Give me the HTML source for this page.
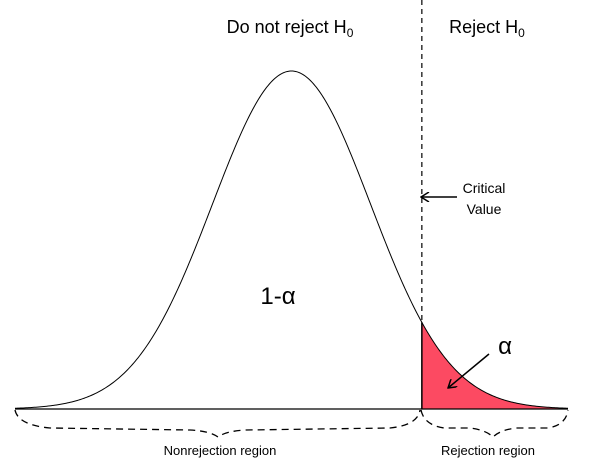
<!DOCTYPE html>
<html><head><meta charset="utf-8"><style>
html,body{margin:0;padding:0;background:#fff;}
svg{display:block;font-family:"Liberation Sans",Arial,sans-serif;}
</style></head><body>
<svg id="chart" width="613" height="476" viewBox="0 0 613 476">
<defs><marker id="ah" markerWidth="10" markerHeight="10" refX="9" refY="5" orient="auto" markerUnits="userSpaceOnUse"><path d="M1,0 L9,5 L1,10" fill="none" stroke="#000" stroke-width="1.5"/></marker></defs>
<g id="plot"></g>
<text x="290" y="33" font-size="18" text-anchor="middle">Do not reject H<tspan font-size="12" dy="4">0</tspan></text>
<text x="487" y="33" font-size="18" text-anchor="middle">Reject H<tspan font-size="12" dy="4">0</tspan></text>
<text x="484" y="193" font-size="14" text-anchor="middle">Critical</text>
<text x="484" y="214" font-size="14" text-anchor="middle">Value</text>
<line x1="457" y1="197" x2="421" y2="197" stroke="#000" stroke-width="1.5" marker-end="url(#ah)"/>
<text x="278" y="304" font-size="24" text-anchor="middle">1-α</text>
<text x="505" y="354" font-size="24" text-anchor="middle">α</text>
<line x1="489" y1="354" x2="448" y2="388" stroke="#000" stroke-width="1.5" marker-end="url(#ah)"/>
<path d="M15,410 Q18,425 50,428 L190,430 Q210,431 218,437 Q226,431 246,430 L390,428 Q418,425 420,410" fill="none" stroke="#000" stroke-width="1.3" stroke-dasharray="7,5"/>
<path d="M421,410 Q424,425 444,428 L470,428 Q486,430 493,437 Q500,430 516,428 L548,428 Q566,425 568,410" fill="none" stroke="#000" stroke-width="1.3" stroke-dasharray="7,5"/>
<text x="220" y="455" font-size="13" text-anchor="middle">Nonrejection region</text>
<text x="488" y="455" font-size="13" text-anchor="middle">Rejection region</text>
</svg>
<script>
const zRange = [-3.5, 3.5];
const criticalZ = [1.65];
const peakDensity = [1];
const NS="http://www.w3.org/2000/svg";
const g=document.getElementById('plot');
const x0=15,x1=568,baseY=409,peakY=71;
const xs=z=>x0+(z-zRange[0])/(zRange[1]-zRange[0])*(x1-x0);
const ys=d=>baseY-d/peakDensity[0]*(baseY-peakY);
const dens=z=>peakDensity[0]*Math.exp(-z*z/2);
let pts=[];
for(let i=0;i<=400;i++){const z=zRange[0]+(zRange[1]-zRange[0])*i/400;pts.push([xs(z),ys(dens(z))]);}
const cz=criticalZ[0];
let fp=[[xs(cz),baseY],[xs(cz),ys(dens(cz))]];
pts.forEach(p=>{if(p[0]>xs(cz))fp.push(p);});
fp.push([xs(zRange[1]),baseY]);
const fill=document.createElementNS(NS,'polygon');
fill.setAttribute('points',fp.map(p=>p.join(',')).join(' '));
fill.setAttribute('fill','#fc4a62');


g.appendChild(fill);
const base=document.createElementNS(NS,'line');
base.setAttribute('x1',x0);base.setAttribute('x2',x1);base.setAttribute('y1',baseY);base.setAttribute('y2',baseY);
base.setAttribute('stroke','#000');base.setAttribute('stroke-width','1.2');


g.appendChild(base);
const curve=document.createElementNS(NS,'polyline');
curve.setAttribute('points',pts.map(p=>p.join(',')).join(' '));
curve.setAttribute('fill','none');curve.setAttribute('stroke','#000');curve.setAttribute('stroke-width','1');


g.appendChild(curve);
const dl=document.createElementNS(NS,'line');
dl.setAttribute('x1',xs(cz));dl.setAttribute('x2',xs(cz));dl.setAttribute('y1',0);dl.setAttribute('y2',ys(dens(cz)));
dl.setAttribute('stroke','#000');dl.setAttribute('stroke-width','1.2');dl.setAttribute('stroke-dasharray','5,4');


g.appendChild(dl);
const sl=document.createElementNS(NS,'line');
sl.setAttribute('x1',xs(cz));sl.setAttribute('x2',xs(cz));sl.setAttribute('y1',ys(dens(cz)));sl.setAttribute('y2',baseY);
sl.setAttribute('stroke','#000');sl.setAttribute('stroke-width','1.5');


g.appendChild(sl);
</script>
</body></html>
